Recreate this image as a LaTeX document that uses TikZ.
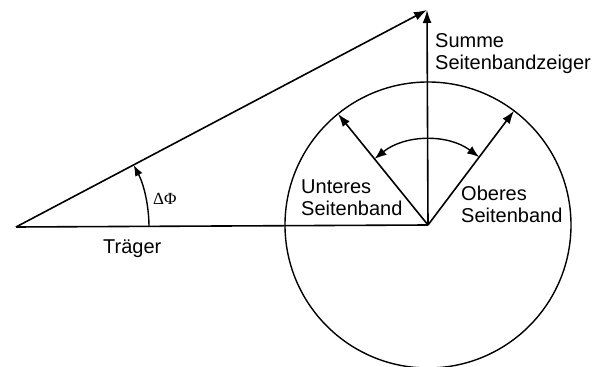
\documentclass[tikz,border=0pt]{standalone}
\usepackage{fontspec}
\setmainfont{Liberation Sans}
\newfontfamily\greekfont{Liberation Serif}
\usetikzlibrary{arrows.meta,calc}
\begin{document}
\begin{tikzpicture}[x=1pt,y=1pt,
  vec/.style={line width=1.6pt,-{Latex[length=13pt,width=9pt]}},
  plain/.style={line width=1.6pt},
  lbl/.style={inner sep=0pt,anchor=north west,align=left,
    font=\fontsize{20}{22}\selectfont},
  glbl/.style={inner sep=0pt,anchor=north west,
    font=\greekfont\fontsize{17}{20}\selectfont}]
\useasboundingbox (0,0) rectangle (603,367);
\coordinate (O) at (16,140);
\coordinate (C) at (428,142);
\coordinate (T) at (427,357);
\coordinate (L) at ($(C)+(129:143)$);
\coordinate (R) at ($(C)+(53:143)$);
% circle
\draw[line width=1.4pt] (C) circle[radius=143];
% carrier
\draw[plain] (O) -- (C);
% resultant
\draw[vec] (O) -- (T);
% sum of sideband vectors
\draw[vec] (C) -- (T);
% sidebands
\draw[vec] (C) -- (L);
\draw[vec] (C) -- (R);
% rotation arc between sidebands
\draw[line width=1.4pt,{Latex[length=12pt,width=9pt]}-{Latex[length=12pt,width=9pt]}]
  ($(C)+(129:85)$) arc[start angle=129,end angle=53,radius=85];
% phase angle arc
\draw[line width=1.4pt,-{Latex[length=11pt,width=8pt]}]
  ($(O)+(0:133)$) arc[start angle=0,end angle=27.8,radius=133];
% labels
\node[lbl] (summe) at (435,334) {Summe\\Seitenbandzeiger};
\node[lbl] (usb) at (301,187) {Unteres\\Seitenband};
\node[lbl] (osb) at (461,181) {Oberes\\Seitenband};
\node[lbl] (trg) at (103,127) {Träger};
\node[glbl] (dphi) at (153,174) {ΔΦ};
\end{tikzpicture}
\end{document}
